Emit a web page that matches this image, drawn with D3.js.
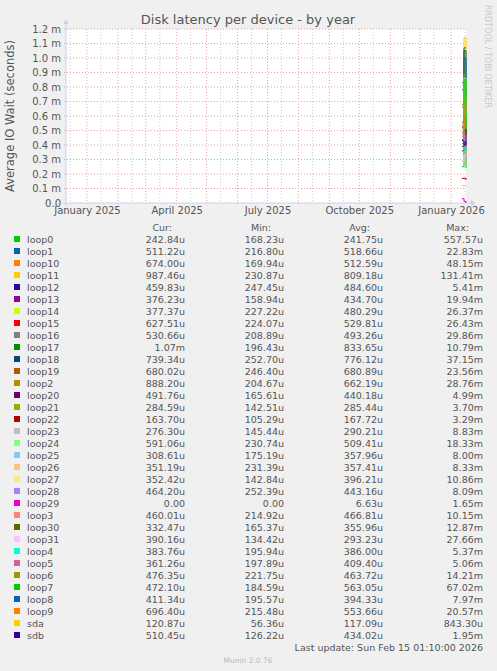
<!DOCTYPE html>
<html><head><meta charset="utf-8">
<script src="https://cdn.jsdelivr.net/npm/d3@7"></script>
<style>body{margin:0;background:#f0f0f0}text{font-family:"DejaVu Sans",sans-serif;fill:#555}</style>
</head><body><svg id="c" width="497" height="671"></svg>
<script>
var names = ["loop0","loop1","loop10","loop11","loop12","loop13","loop14","loop15","loop16","loop17","loop18","loop19","loop2","loop20","loop21","loop22","loop23","loop24","loop25","loop26","loop27","loop28","loop29","loop3","loop30","loop31","loop4","loop5","loop6","loop7","loop8","loop9","sda","sdb"];
var colors = ["#00CC00","#0066B3","#FF8000","#FFCC00","#330099","#990099","#CCFF00","#FF0000","#808080","#008F00","#00487D","#B35A00","#B38F00","#6B006B","#8FB300","#B30000","#BEBEBE","#80FF80","#80C9FF","#FFC080","#FFE680","#AA80FF","#EE00CC","#FF8080","#666600","#FFBFFF","#00FFCC","#CC6699","#999900","#00CC00","#0066B3","#FF8000","#FFCC00","#330099"];
var cur = ["242.84u","511.22u","674.00u","987.46u","459.83u","376.23u","377.37u","627.51u","530.66u","1.07m","739.34u","680.02u","888.20u","491.76u","284.59u","163.70u","276.30u","591.06u","308.61u","351.19u","352.42u","464.20u","0.00","460.01u","332.47u","390.16u","383.76u","361.26u","476.35u","472.10u","411.34u","696.40u","120.87u","510.45u"];
var mins = ["168.23u","216.80u","169.94u","230.87u","247.45u","158.94u","227.22u","224.07u","208.89u","196.43u","252.70u","246.40u","204.67u","165.61u","142.51u","105.29u","145.44u","230.74u","175.19u","231.39u","142.84u","252.39u","0.00","214.92u","165.37u","134.42u","195.94u","197.89u","221.75u","184.59u","195.57u","215.48u","56.36u","126.22u"];
var avgs = ["241.75u","518.66u","512.59u","809.18u","484.60u","434.70u","480.29u","529.81u","493.26u","833.65u","776.12u","680.89u","662.19u","440.18u","285.44u","167.72u","290.21u","509.41u","357.96u","357.41u","396.21u","443.16u","6.63u","466.81u","355.96u","293.23u","386.00u","409.40u","463.72u","563.05u","394.33u","553.66u","117.09u","434.02u"];
var maxs = ["557.57u","22.83m","48.15m","131.41m","5.41m","19.94m","26.37m","26.43m","29.86m","10.79m","37.15m","23.56m","28.76m","4.99m","3.70m","3.29m","8.83m","18.33m","8.00m","8.33m","10.86m","8.09m","1.65m","10.15m","12.87m","27.66m","5.37m","5.06m","14.21m","67.02m","7.97m","20.57m","843.30u","1.95m"];
// values (ms) for the last days of the graph
var dates = ["2026-01-12","2026-01-14","2026-01-16"];
var series = [
 [0.25,0.56,0.24],[0.52,1.00,0.51],[0.51,0.66,0.67],[0.81,1.14,0.99],[0.48,0.52,0.46],[0.43,0.50,0.38],
 [0.48,0.62,0.38],[0.53,0.70,0.63],[0.49,0.75,0.53],[0.83,1.07,1.07],[0.78,1.05,0.74],[0.68,0.80,0.68],
 [0.66,0.89,0.89],[0.44,0.50,0.49],[0.29,0.40,0.28],[0.17,0.17,0.16],[0.29,0.33,0.28],[0.51,0.86,0.59],
 [0.36,0.40,0.31],[0.36,0.45,0.35],[0.40,0.47,0.35],[0.44,0.49,0.46],[0.03,0.01,0.00],[0.47,0.55,0.46],
 [0.36,0.42,0.33],[0.29,0.33,0.39],[0.39,0.36,0.38],[0.41,0.45,0.36],[0.46,0.60,0.48],[0.56,0.85,0.47],
 [0.39,0.42,0.41],[0.55,0.65,0.70],[0.12,0.12,0.12],[0.43,0.40,0.51]];

var svg = d3.select("#c");
var L = 66, R = 466, T = 29, B = 203;
var x = d3.scaleTime().domain([new Date(2024,11,11), new Date(2026,0,16)]).range([L, R]);
var y = d3.scaleLinear().domain([0, 1.2]).range([B, T]);
svg.append("rect").attr("x", L).attr("y", T).attr("width", R-L).attr("height", B-T).attr("fill", "#fff");

// grid
var halfMonths = d3.timeMonths(new Date(2024,11,11), new Date(2026,0,16)).map(function(d){return new Date(d.getFullYear(), d.getMonth(), 15);});
halfMonths.push(new Date(2024,11,15));
svg.append("g").selectAll("line").data(halfMonths.filter(function(d){return x(d)>L&&x(d)<R;})).enter().append("line")
 .attr("x1", function(d){return x(d);}).attr("x2", function(d){return x(d);}).attr("y1", T).attr("y2", B)
 .attr("stroke", "#ccc").attr("stroke-dasharray", "1,2");
var months = d3.timeMonth.range(new Date(2024,11,11), new Date(2026,0,16));
svg.append("g").selectAll("line").data(months).enter().append("line")
 .attr("x1", function(d){return x(d);}).attr("x2", function(d){return x(d);}).attr("y1", T).attr("y2", B+2)
 .attr("stroke", "#e8a0a0").attr("stroke-dasharray", "1,2");
var yt = d3.range(1, 13).map(function(i){return i/10;});
svg.append("g").selectAll("line").data(yt).enter().append("line")
 .attr("x1", L-2).attr("x2", R).attr("y1", function(d){return y(d);}).attr("y2", function(d){return y(d);})
 .attr("stroke", "#e8a0a0").attr("stroke-dasharray", "1,2");

// axes
var ya = svg.append("g").attr("transform", "translate(" + L + ",0)")
 .call(d3.axisLeft(y).tickValues(d3.range(0, 13).map(function(i){return i/10;})).tickSize(0).tickPadding(5)
 .tickFormat(function(d){return d === 0 ? "0.0" : d3.format(".1f")(d) + " m";}));
ya.select(".domain").remove();
ya.selectAll("text").attr("font-size", 10).attr("fill", "#555").attr("font-family", "DejaVu Sans");
var quarters = [new Date(2025,0,1), new Date(2025,3,1), new Date(2025,6,1), new Date(2025,9,1), new Date(2026,0,1)];
var xa = svg.append("g").attr("transform", "translate(0," + B + ")")
 .call(d3.axisBottom(x).tickValues(quarters).tickSize(0).tickPadding(4).tickFormat(d3.timeFormat("%B %Y")));
xa.select(".domain").remove();
xa.selectAll("text").attr("font-size", 10).attr("fill", "#555").attr("font-family", "DejaVu Sans");
svg.append("line").attr("x1", L-3).attr("x2", R+6).attr("y1", B).attr("y2", B).attr("stroke", "#ccd0ee");
svg.append("line").attr("x1", L).attr("x2", L).attr("y1", B+3).attr("y2", T-7).attr("stroke", "#ccd0ee");
svg.append("path").attr("d", "M" + (R+10) + "," + B + "l-5,-3v6z").attr("fill", "#ccd0ee");
svg.append("path").attr("d", "M" + L + "," + (T-10) + "l-3,5h6z").attr("fill", "#ccd0ee");

// lines
var line = d3.line().x(function(d){return x(d[0]);}).y(function(d){return y(d[1]);}).curve(d3.curveStepAfter);
var pd = dates.map(function(s){return d3.timeParse("%Y-%m-%d")(s);});
series.forEach(function(s, i){
  svg.append("path").datum(s.map(function(v, j){return [pd[j], v];}))
   .attr("d", line).attr("fill", "none").attr("stroke", colors[i]).attr("stroke-width", 1);
});

// titles
svg.append("text").attr("x", 248).attr("y", 24).attr("text-anchor", "middle").attr("font-size", 13).text("Disk latency per device - by year");
svg.append("text").attr("transform", "translate(14,116) rotate(-90)").attr("text-anchor", "middle").attr("font-size", 11.5).text("Average IO Wait (seconds)");
svg.append("text").attr("transform", "translate(485,5) rotate(90)").attr("font-size", 8).style("fill", "#c8c8c8").text("RRDTOOL / TOBI OETIKER");

// legend
var mono = "DejaVu Sans Mono";
var hdr = [["Cur:",172],["Min:",271],["Avg:",370],["Max:",469]];
hdr.forEach(function(h){svg.append("text").attr("x", h[1]).attr("y", 231).attr("text-anchor","end").attr("font-family", mono).attr("font-size", 9.5).text(h[0]);});
var rows = svg.append("g").selectAll("g").data(names).enter().append("g")
 .attr("transform", function(d, i){return "translate(0," + (239 + i*12) + ")";});
rows.append("rect").attr("x", 14).attr("y", -3).attr("width", 6).attr("height", 6).attr("fill", function(d, i){return colors[i];});
rows.append("text").attr("x", 27).attr("y", 3.5).attr("font-family", mono).attr("font-size", 9.5).text(function(d){return d;});
[[cur,185],[mins,284],[avgs,383],[maxs,483]].forEach(function(c){
  rows.append("text").attr("x", c[1]).attr("y", 3.5).attr("text-anchor","end").attr("font-family", mono).attr("font-size", 9.5)
   .text(function(d, i){return c[0][i];});
});
svg.append("text").attr("x", 483).attr("y", 651).attr("text-anchor","end").attr("font-family", mono).attr("font-size", 9.5).text("Last update: Sun Feb 15 01:10:00 2026");
svg.append("text").attr("x", 248).attr("y", 663).attr("text-anchor","middle").attr("font-size", 7.5).style("fill", "#bbb").text("Munin 2.0.76");
</script></body></html>
